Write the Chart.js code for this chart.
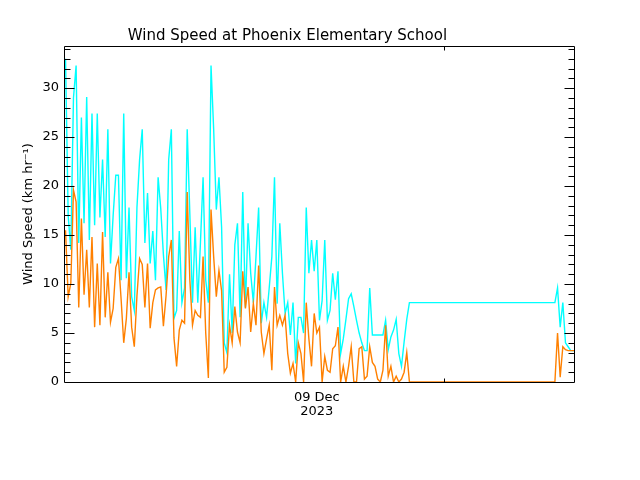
<!DOCTYPE html>
<html>
<head>
<meta charset="utf-8">
<script src="https://cdn.jsdelivr.net/npm/chart.js@4.4.1/dist/chart.umd.min.js"></script>
<style>
  html, body { margin: 0; padding: 0; background: #fff; }
</style>
</head>
<body>
<canvas id="windChart" width="640" height="480"></canvas>
<script>
// Wind speed at Phoenix Elementary School, 15-minute readings
// x values are hours since 00:00 on 09 Dec 2023
const mainStartHour = -11.75;
const tailStartHour = 34.5;
const stepHours = 0.25;

// peak wind speed (km/h), before the data gap
const maxSpeedMain = [
  33, 17, 13.5, 29, 32.3, 14.2, 27, 16.2, 29.1, 14.5,
  27.4, 16, 27.4, 16.8, 22.7, 14.8, 25.8, 12.1, 17, 21.1,
  21.1, 10.4, 27.4, 10.6, 17.8, 8.7, 7.3, 17.8, 22.7, 25.8,
  14.2, 19.3, 12.1, 15.4, 10.4, 20.9, 17.7, 13, 9.4, 22.7,
  25.8, 6.5, 7.3, 15.4, 8.1, 9.6, 25.8, 17.1, 8.1, 15.8,
  8.1, 14.2, 20.9, 10.4, 8.1, 32.3, 25.8, 17.6, 20.9, 15.8,
  4.0, 3.0, 11, 5, 14, 16.2, 6.6, 19.4, 7.6, 16.2,
  11.1, 8.1, 12.8, 17.8, 6, 8.1, 6.6, 9.6, 12.8, 20.9,
  8, 16.2, 11.1, 7, 8.1, 4.8, 8.1, 1.9, 6.6, 6.6,
  5, 17.8, 11.1, 14.5, 11.3, 14.5, 6.3, 8.3, 14.5, 6.3,
  7.3, 11.1, 8.4, 11.3, 2.9, 4.4, 6.4, 8.5, 9.0, 7.7,
  6.3, 5.0, 4.0, 3.2, 3.2, 9.6, 4.8, 4.8, 4.8, 4.8,
  4.8, 6.3, 3.3, 4.6, 5.3, 6.4, 2.9, 1.6, 4.1, 6.4,
  8.1
];

// mean wind speed (km/h), before the data gap
const meanSpeedMain = [
  15.5, 8.7, 10.1, 19.6, 18.4, 7.6, 16.7, 8.9, 13.5, 7.6,
  14.8, 5.6, 12.1, 5.8, 15.3, 6.6, 11.2, 6.1, 7.5, 11.7,
  12.6, 8.5, 4.0, 6.5, 11.2, 5.6, 3.6, 8.8, 12.6, 12.0,
  7.6, 12.1, 5.5, 8.1, 9.4, 9.6, 9.7, 5.7, 8.8, 12.8,
  14.5, 4.5, 1.6, 5.3, 6.3, 6.0, 19.4, 10.4, 5.8, 7.3,
  6.8, 6.6, 12.8, 5.0, 0.4, 17.6, 12.8, 8.7, 11.4, 9.3,
  1.0, 1.5, 5.8, 4.0, 7.7, 5.1, 4.0, 11.3, 7.5, 9.7,
  5.1, 8.0, 5.8, 11.9, 5.1, 2.9, 4.4, 5.8, 1.2, 9.7,
  5.8, 6.8, 5.8, 6.8, 2.9, 0.9, 1.9, 0.0, 4.0, 2.9,
  0.0, 8.1, 4.4, 1.6, 7.0, 5.0, 5.6, 0.0, 2.6, 1.2,
  1.0, 3.4, 3.7, 5.6, 0.0, 1.6, 0.0, 1.6, 3.6, 0.0,
  0.0, 3.4, 3.6, 0.3, 0.6, 3.6, 2.0, 1.6, 0.3, 0.0,
  1.2, 5.8, 0.6, 1.6, 0.0, 0.6, 0.0, 0.3, 1.0, 3.0,
  0.0
];

// readings after the gap
const maxSpeedTail = [8.1, 9.6, 5.6, 8.1, 4.0, 3.6, 3.2, 3.2, 3.2];
const meanSpeedTail = [0.0, 5.0, 0.5, 3.6, 3.3, 3.2, 3.2, 3.2, 3.2];

const dayLabel = ['09 Dec', '2023'];
const dayLabelHour = 12;
const dayTickHour = 24;
const xMinHour = -11.8;
const xMaxHour = 36.4;
const yMax = 34.3;

// join the two pieces into {x, y} points
const toPoints = (mainVals, tailVals) => {
  const pts = [];
  mainVals.forEach((v, i) => pts.push({ x: mainStartHour + i * stepHours, y: v }));
  tailVals.forEach((v, i) => pts.push({ x: tailStartHour + i * stepHours, y: v }));
  return pts;
};

// box round the plot with inward ticks, like the original
const frameTicks = {
  id: 'frameTicks',
  afterDatasetsDraw(chart) {
    const { ctx, chartArea: a, scales: { x, y } } = chart;
    const L = a.left - 0.5, R = a.right - 0.5, T = a.top + 0.5, B = a.bottom + 0.5;
    ctx.save();
    ctx.strokeStyle = '#000';
    ctx.lineWidth = 1;
    ctx.beginPath();
    ctx.moveTo(L, T); ctx.lineTo(R, T); ctx.lineTo(R, B); ctx.lineTo(L, B); ctx.closePath();
    for (let v = 1; v < yMax; v++) {
      const py = Math.round(y.getPixelForValue(v)) + 0.5;
      const len = v % 5 === 0 ? 10 : 6;
      ctx.moveTo(L, py); ctx.lineTo(L + len, py);
      ctx.moveTo(R, py); ctx.lineTo(R - len, py);
    }
    const px = Math.round(x.getPixelForValue(dayTickHour)) + 0.5;
    ctx.moveTo(px, B); ctx.lineTo(px, B - 4);
    ctx.moveTo(px, T); ctx.lineTo(px, T + 4);
    ctx.stroke();
    ctx.restore();
  }
};

Chart.defaults.font.family = '"DejaVu Sans", sans-serif';
Chart.defaults.color = '#000';

new Chart(document.getElementById('windChart'), {
  type: 'line',
  data: {
    datasets: [
      {
        label: 'Mean',
        data: toPoints(meanSpeedMain, meanSpeedTail),
        borderColor: '#ff8000',
        borderWidth: 1.4,
        pointRadius: 0,
        tension: 0,
        order: 0
      },
      {
        label: 'Peak',
        data: toPoints(maxSpeedMain, maxSpeedTail),
        borderColor: '#00ffff',
        borderWidth: 1.4,
        pointRadius: 0,
        tension: 0,
        order: 1
      }
    ]
  },
  options: {
    responsive: false,
    animation: false,
    devicePixelRatio: 1,
    layout: { padding: { top: 0, right: 65, bottom: 0, left: 0 } },
    plugins: {
      legend: { display: false },
      tooltip: { enabled: false },
      title: {
        display: true,
        text: 'Wind Speed at Phoenix Elementary School',
        font: { size: 15, weight: 'normal' },
        padding: { top: 27, bottom: 1 }
      }
    },
    scales: {
      x: {
        type: 'linear',
        min: xMinHour,
        max: xMaxHour,
        grid: { display: false, drawTicks: false },
        border: { display: false },
        afterBuildTicks: (scale) => { scale.ticks = [{ value: dayLabelHour }]; },
        ticks: {
          callback: () => dayLabel,
          font: { size: 13, lineHeight: 1.1 },
          padding: 8,
          maxRotation: 0
        },
        afterFit: (scale) => { scale.height = 98; }
      },
      y: {
        min: 0,
        max: yMax,
        bounds: 'data',
        grid: { display: false, drawTicks: false },
        border: { display: false },
        ticks: { stepSize: 5, includeBounds: false, font: { size: 13 }, padding: 6 },
        title: {
          display: true,
          text: 'Wind Speed (km hr\u207B\u00B9)',
          font: { size: 13 },
          padding: { top: 21, bottom: 0 }
        },
        afterFit: (scale) => { scale.width = 65; }
      }
    }
  },
  plugins: [frameTicks]
});
</script>
</body>
</html>
